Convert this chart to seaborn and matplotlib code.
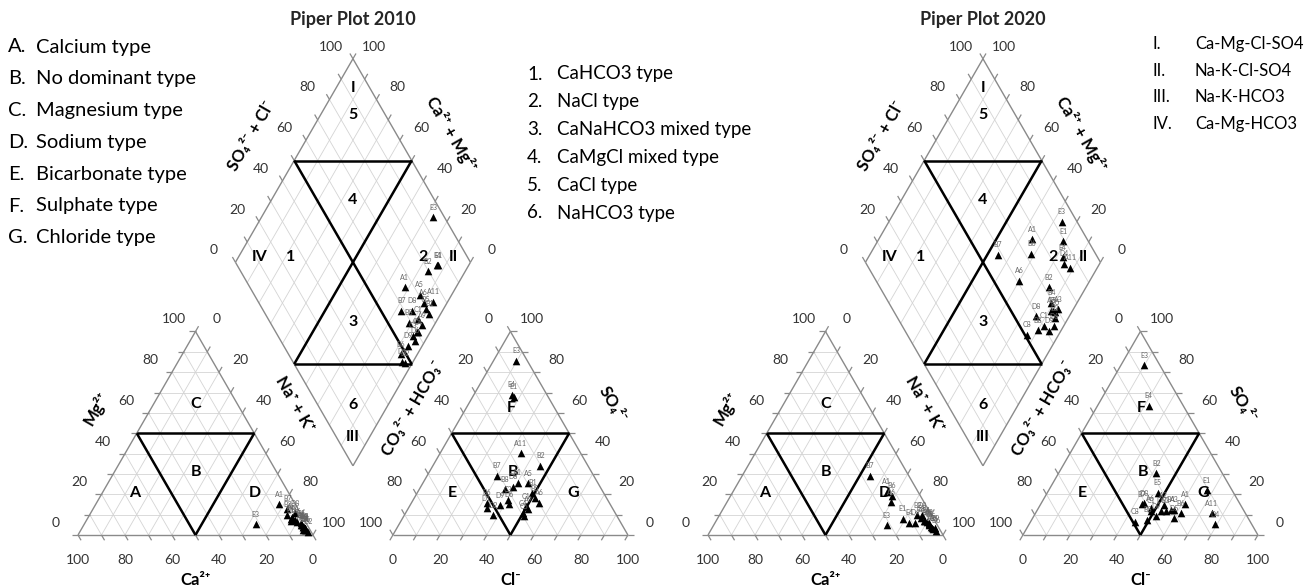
import numpy as np
import pandas as pd
import matplotlib
matplotlib.use("Agg")
import matplotlib.pyplot as plt
import seaborn as sns

sns.set_theme(style="white")
plt.rcParams['font.family'] = ['Lato', 'DejaVu Sans']

# ---------------- data (percent of meq) ----------------
labels_2010 = ["E3", "E4", "E1", "B2", "A1", "A5", "A11", "A6", "B5", "B7", "D8", "B1",
               "B8", "C1", "A9", "C4", "D6", "D9", "B6", "D1", "D2", "C3", "C5"]
ca_2010 = [21.7, 5.5, 6.0, 6.0, 6.8, 4.6, 2.2, 3.4, 2.6, 4.6, 2.4, 1.9,
           4.0, 2.4, 1.7, 1.7, 1.9, 1.9, 2.2, 2.3, 1.5, 2.4, 3.0]
mg_2010 = [5.3, 8.0, 7.0, 10.0, 15.1, 9.0, 4.0, 6.5, 4.9, 12.8, 10.7, 3.0,
           7.4, 5.7, 3.5, 3.3, 2.5, 4.1, 4.9, 2.5, 1.6, 4.1, 2.5]
so4_2010 = [85.5, 69.0, 68.0, 34.0, 25.7, 25.4, 40.2, 15.9, 18.0, 29.1, 23.7, 20.8,
            22.6, 14.2, 12.6, 10.7, 15.2, 14.7, 15.9, 13.1, 9.8, 17.2, 9.3]
cl_2010 = [9.6, 16.0, 17.5, 45.7, 40.2, 45.0, 34.2, 54.3, 51.4, 29.6, 39.3, 49.0,
           36.4, 49.6, 51.3, 49.9, 41.9, 38.2, 31.9, 33.3, 37.5, 40.2, 51.0]

labels_2020 = ["E3", "E1", "A1", "B7", "B6", "A6", "E4", "A11", "D4", "B2", "B4", "A2",
               "A3", "B3", "E5", "D8", "C1", "B8", "D9", "C8", "D5", "D6"]
ca_2020 = [21.5, 13.2, 13.3, 16.6, 12.2, 14.0, 11.3, 4.4, 9.0, 6.0, 4.0, 3.0,
           3.1, 2.7, 3.4, 4.2, 3.0, 3.8, 1.9, 5.1, 3.0, 2.0]
mg_2020 = [4.9, 7.9, 21.3, 29.0, 19.3, 16.0, 6.0, 7.0, 6.0, 9.8, 7.0, 6.0,
           3.3, 3.0, 5.0, 9.8, 5.5, 6.2, 3.3, 8.2, 4.0, 2.0]
so4_2020 = [83.5, 22.1, 15.2, 15.0, 10.7, 13.1, 63.4, 10.7, 5.3, 30.3, 12.3, 14.7,
            12.3, 11.9, 20.8, 15.6, 11.9, 7.4, 9.3, 6.5, 8.2, 12.0]
cl_2020 = [9.9, 67.1, 61.5, 43.0, 61.9, 47.9, 21.8, 75.1, 79.1, 41.7, 56.8, 52.5,
           58.2, 54.9, 46.9, 43.8, 48.5, 49.2, 51.9, 44.5, 60.3, 52.6]

ticks = [0, 20, 40, 60, 80, 100]
legend_left_keys = ["A.", "B.", "C.", "D.", "E.", "F.", "G."]
legend_left_text = ["Calcium type", "No dominant type", "Magnesium type", "Sodium type",
                    "Bicarbonate type", "Sulphate type", "Chloride type"]
legend_mid_keys = ["1.", "2.", "3.", "4.", "5.", "6."]
legend_mid_text = ["CaHCO3 type", "NaCl type", "CaNaHCO3 mixed type", "CaMgCl mixed type",
                   "CaCl type", "NaHCO3 type"]
legend_right_keys = ["I.", "II.", "III.", "IV."]
legend_right_text = ["Ca-Mg-Cl-SO4", "Na-K-Cl-SO4", "Na-K-HCO3", "Ca-Mg-HCO3"]
titles = ["Piper Plot 2010", "Piper Plot 2020"]

# ---------------- geometry ----------------
K = 2.35          # px per percent
BASE = 535.0      # baseline y (px)
G = 34.0          # gap between triangles (percent units)
S = np.sqrt(3) / 2
OX = [78.0, 708.0]

fig = plt.figure(figsize=(13.09, 5.87), dpi=100)
ax = fig.add_axes([0, 0, 1, 1])
ax.set_xlim(0, 1309)
ax.set_ylim(587, 0)
ax.axis("off")

GRID_C = "#d4d4d4"
EDGE_C = "#8a8a8a"
TXT_C = "#333333"


def P(x0, x, y):
    return x0 + K * np.asarray(x, float), BASE - K * np.asarray(y, float)


def cat_uv(ca, mg):
    ca = np.asarray(ca, float); mg = np.asarray(mg, float)
    n = 100 - ca - mg
    return n + mg / 2, mg * S


def an_uv(so4, cl):
    so4 = np.asarray(so4, float); cl = np.asarray(cl, float)
    return 100 + G + cl + so4 / 2, so4 * S


def dia_uv(a, q):
    a = np.asarray(a, float); q = np.asarray(q, float)
    return 100 + G / 2 + 0.5 * (a - q), G * S + S * (a + q)


def seg(x0, p1, p2, color, lw, z=1):
    xs, ys = P(x0, [p1[0], p2[0]], [p1[1], p2[1]])
    ax.plot(xs, ys, color=color, lw=lw, zorder=z, solid_capstyle="butt")


L = 2.6  # tick length (percent units)
ox = 100 + G
for pi, x0 in enumerate(OX):
    # ---- grid lines ----
    for i in range(10, 100, 10):
        seg(x0, (i / 2, i * S), (100 - i / 2, i * S), GRID_C, 0.6)
        seg(x0, (i, 0), (i + (100 - i) / 2, (100 - i) * S), GRID_C, 0.6)
        seg(x0, (100 - i, 0), ((100 - i) / 2, (100 - i) * S), GRID_C, 0.6)
        seg(x0, (ox + i / 2, i * S), (ox + 100 - i / 2, i * S), GRID_C, 0.6)
        seg(x0, (ox + i, 0), (ox + i + (100 - i) / 2, (100 - i) * S), GRID_C, 0.6)
        seg(x0, (ox + 100 - i, 0), (ox + (100 - i) / 2, (100 - i) * S), GRID_C, 0.6)
        seg(x0, dia_uv(i, 0), dia_uv(i, 100), GRID_C, 0.6)
        seg(x0, dia_uv(0, i), dia_uv(100, i), GRID_C, 0.6)
    # ---- tick marks ----
    for v in range(0, 101, 10):
        p = (v / 2, v * S); seg(x0, p, (p[0] - L, p[1]), EDGE_C, 0.9)
        p = (100 - v, 0); seg(x0, p, (p[0] + 0.5 * L, p[1] - S * L), EDGE_C, 0.9)
        p = (v + (100 - v) / 2, (100 - v) * S); seg(x0, p, (p[0] + 0.5 * L, p[1] + S * L), EDGE_C, 0.9)
        p = (ox + (100 - v) / 2, (100 - v) * S); seg(x0, p, (p[0] - 0.5 * L, p[1] + S * L), EDGE_C, 0.9)
        p = (ox + v, 0); seg(x0, p, (p[0] - 0.5 * L, p[1] - S * L), EDGE_C, 0.9)
        p = (ox + (100 - v) + v / 2, v * S); seg(x0, p, (p[0] + L, p[1]), EDGE_C, 0.9)
        p = dia_uv(v, 100); seg(x0, p, (p[0] - 0.5 * L, p[1] + S * L), EDGE_C, 0.9)
        p = dia_uv(100, v); seg(x0, p, (p[0] + 0.5 * L, p[1] + S * L), EDGE_C, 0.9)
    # ---- outlines ----
    for a, b in [((0, 0), (100, 0)), ((100, 0), (50, 100 * S)), ((50, 100 * S), (0, 0)),
                 ((ox, 0), (ox + 100, 0)), ((ox + 100, 0), (ox + 50, 100 * S)),
                 ((ox + 50, 100 * S), (ox, 0))]:
        seg(x0, a, b, EDGE_C, 1.0, 2)
    for a, b in [(dia_uv(0, 0), dia_uv(100, 0)), (dia_uv(100, 0), dia_uv(100, 100)),
                 (dia_uv(100, 100), dia_uv(0, 100)), (dia_uv(0, 100), dia_uv(0, 0))]:
        seg(x0, a, b, EDGE_C, 1.0, 2)
    # ---- bold classification lines ----
    for off in (0, ox):
        seg(x0, (off + 25, 50 * S), (off + 75, 50 * S), "black", 1.8, 3)
        seg(x0, (off + 25, 50 * S), (off + 50, 0), "black", 1.8, 3)
        seg(x0, (off + 75, 50 * S), (off + 50, 0), "black", 1.8, 3)
    seg(x0, dia_uv(50, 100), dia_uv(100, 50), "black", 1.8, 3)
    seg(x0, dia_uv(0, 50), dia_uv(50, 0), "black", 1.8, 3)
    seg(x0, dia_uv(50, 100), dia_uv(50, 0), "black", 1.8, 3)
    seg(x0, dia_uv(100, 50), dia_uv(0, 50), "black", 1.8, 3)

    # ---- tick labels ----
    tk = dict(fontsize=10, color=TXT_C, ha="center", va="center")
    for v in ticks:
        x, y = P(x0, 100 - v, 0); ax.text(x, y + 25, str(v), **tk)
        x, y = P(x0, v / 2, v * S); ax.text(x - 22, y - 12, str(v), **tk)
        x, y = P(x0, v + (100 - v) / 2, (100 - v) * S); ax.text(x + 21, y - 12, str(v), **tk)
        x, y = P(x0, ox + v, 0); ax.text(x, y + 25, str(v), **tk)
        x, y = P(x0, ox + (100 - v) / 2, (100 - v) * S); ax.text(x - 22, y - 12, str(v), **tk)
        x, y = P(x0, ox + (100 - v) + v / 2, v * S); ax.text(x + 22, y - 12, str(v), **tk)
        u, w = dia_uv(v, 100); x, y = P(x0, u, w); ax.text(x - 22, y - 12, str(v), **tk)
        u, w = dia_uv(100, v); x, y = P(x0, u, w); ax.text(x + 21, y - 12, str(v), **tk)

    # ---- region labels ----
    dx = x0 - OX[0]
    rl = dict(fontsize=11.5, fontweight="bold", color="black", ha="center", va="center", zorder=4)
    for t, (x, y) in {"A": (135, 493), "B": (196, 472), "C": (196, 404), "D": (255, 493)}.items():
        ax.text(x + dx, y, t, **rl)
    for t, (x, y) in {"E": (452, 493), "F": (511, 408), "G": (573, 493)}.items():
        ax.text(x + dx, y, t, **rl)
    ax.text(513 + dx, 472, "B", **rl)
    for t, x, y in [("I", 353, 88), ("5", 353, 115), ("4", 353, 200), ("IV", 260, 257),
                    ("1", 291, 257), ("2", 423, 257), ("II", 453, 257), ("3", 353, 322),
                    ("6", 353, 405), ("III", 353, 437)]:
        ax.text(x + dx, y, t, **rl)

    # ---- axis titles ----
    at = dict(fontsize=12, fontweight="bold", color="black", ha="center", va="center")
    ax.text(196 + dx, 580, "Ca²⁺", **at)
    ax.text(96 + dx, 408, "Mg²⁺", rotation=60, **at)
    ax.text(295 + dx, 404, "Na⁺ + K⁺", rotation=-60, **at)
    ax.text(511 + dx, 580, "Cl⁻", **at)
    ax.text(413 + dx, 408, "CO₃²⁻ + HCO₃⁻", rotation=60, **at)
    ax.text(612 + dx, 404, "SO₄²⁻", rotation=-60, **at)
    ax.text(251 + dx, 136, "SO₄²⁻ + Cl⁻", rotation=60, **at)
    ax.text(451 + dx, 134, "Ca²⁺ + Mg²⁺", rotation=-60, **at)
    ax.text(353 + dx, 20, titles[pi], fontsize=13, fontweight="bold", ha="center", va="center")

# ---------------- samples ----------------
frames = []
for pi, (lab, ca, mg, so4, cl) in enumerate([
        (labels_2010, ca_2010, mg_2010, so4_2010, cl_2010),
        (labels_2020, ca_2020, mg_2020, so4_2020, cl_2020)]):
    x0 = OX[pi]
    ca = np.array(ca); mg = np.array(mg); so4 = np.array(so4); cl = np.array(cl)
    u, w = cat_uv(ca, mg); xc, yc = P(x0, u, w)
    u, w = an_uv(so4, cl); xa, ya = P(x0, u, w)
    u, w = dia_uv(so4 + cl, ca + mg); xd, yd = P(x0, u, w)
    for xs, ys in [(xc, yc), (xa, ya), (xd, yd)]:
        frames.append(pd.DataFrame({"x": xs, "y": ys, "label": lab}))
df = pd.concat(frames, ignore_index=True)

sns.scatterplot(data=df, x="x", y="y", marker="^", color="black", s=30,
                edgecolor="black", linewidth=0, ax=ax, zorder=5, legend=False)
for _, r in df.iterrows():
    ax.text(r.x, r.y - 10, r.label, fontsize=5, color="#666666", ha="center",
            va="center", zorder=6)
ax.set_xlim(0, 1309)
ax.set_ylim(587, 0)
ax.axis("off")

# ---------------- legends ----------------
lg = dict(fontsize=14.5, color="black", va="center", ha="left")
for i, (k, t) in enumerate(zip(legend_left_keys, legend_left_text)):
    ax.text(8, 47 + 31.8 * i, k, **lg)
    ax.text(36, 47 + 31.8 * i, t, **lg)
lg = dict(fontsize=13.5, color="black", va="center", ha="left")
for i, (k, t) in enumerate(zip(legend_mid_keys, legend_mid_text)):
    ax.text(527, 74 + 27.8 * i, k, **lg)
    ax.text(557, 74 + 27.8 * i, t, **lg)
lg = dict(fontsize=12, color="black", va="center", ha="left")
for i, (k, t) in enumerate(zip(legend_right_keys, legend_right_text)):
    ax.text(1152, 44 + 26.7 * i, k, **lg)
    ax.text(1195, 44 + 26.7 * i, t, **lg)

fig.savefig("out.png", dpi=100, facecolor="white")
